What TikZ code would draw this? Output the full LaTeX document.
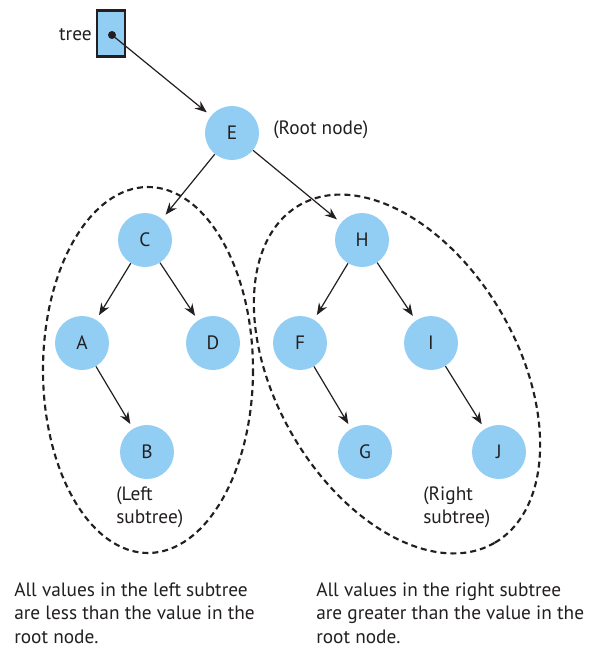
\documentclass[tikz,border=0pt]{standalone}
\usepackage{fontspec}
\setmainfont{PT Sans}
\usetikzlibrary{arrows.meta}
\definecolor{nodeblue}{HTML}{92CEF3}
\definecolor{ink}{HTML}{231F20}
\begin{document}
\begin{tikzpicture}[x=0.75pt,y=-0.75pt,
  tn/.style={circle,fill=nodeblue,minimum size=40.5pt,inner sep=0pt,font=\fontsize{14.5}{16}\selectfont,text=ink},
  arr/.style={draw=ink,line width=0.9pt,-{Stealth[length=9pt,width=7pt,inset=3pt]},shorten >=4pt},
  region/.style={draw=ink,line width=1.6pt,dash pattern=on 4.5pt off 3pt},
  lbl/.style={font=\fontsize{14.5}{17.8}\selectfont,text=ink,align=left,inner sep=0pt}]
\useasboundingbox (0,0) rectangle (589,650);
% regions
\draw[region] (148,370) ellipse [x radius=105, y radius=183];
\draw[region, rotate around={-60:(397,374)}] (397,374) ellipse [x radius=195, y radius=121];
% pointer box
\node[draw=ink,line width=2.2pt,fill=nodeblue,minimum width=21pt,minimum height=35pt,inner sep=0pt] (box) at (111,33.5) {};
\node[circle,fill=ink,inner sep=0pt,minimum size=6pt] (ptr) at (112,35) {};
\node[lbl,anchor=east] (treelbl) at (92,35) {tree};
% tree nodes
\node[tn] (E) at (232,133) {E};
\node[tn] (C) at (145,240) {C};
\node[tn] (H) at (362,240) {H};
\node[tn] (A) at (82,343) {A};
\node[tn] (D) at (213,343) {D};
\node[tn] (F) at (300,343) {F};
\node[tn] (I) at (431,343) {I};
\node[tn] (B) at (147,452) {B};
\node[tn] (G) at (365,452) {G};
\node[tn] (J) at (499,452) {J};
% connectors
\draw[arr] (ptr.center) -- (E);
\draw[arr] (E) -- (C);
\draw[arr] (E) -- (H);
\draw[arr] (C) -- (A);
\draw[arr] (C) -- (D);
\draw[arr] (A) -- (B);
\draw[arr] (H) -- (F);
\draw[arr] (H) -- (I);
\draw[arr] (F) -- (G);
\draw[arr] (I) -- (J);
% labels
\node[lbl,anchor=west] (rootlbl) at (273,130) {(Root node)};
\node[lbl,anchor=north west] (leftlbl) at (116,486) {(Left\\subtree)};
\node[lbl,anchor=north west] (rightlbl) at (423,486) {(Right\\subtree)};
\node[lbl,anchor=north west] (leftnote) at (14,582) {All values in the left subtree\\are less than the value in the\\root node.};
\node[lbl,anchor=north west] (rightnote) at (316,582) {All values in the right subtree\\are greater than the value in the\\root node.};
\end{tikzpicture}
\end{document}
